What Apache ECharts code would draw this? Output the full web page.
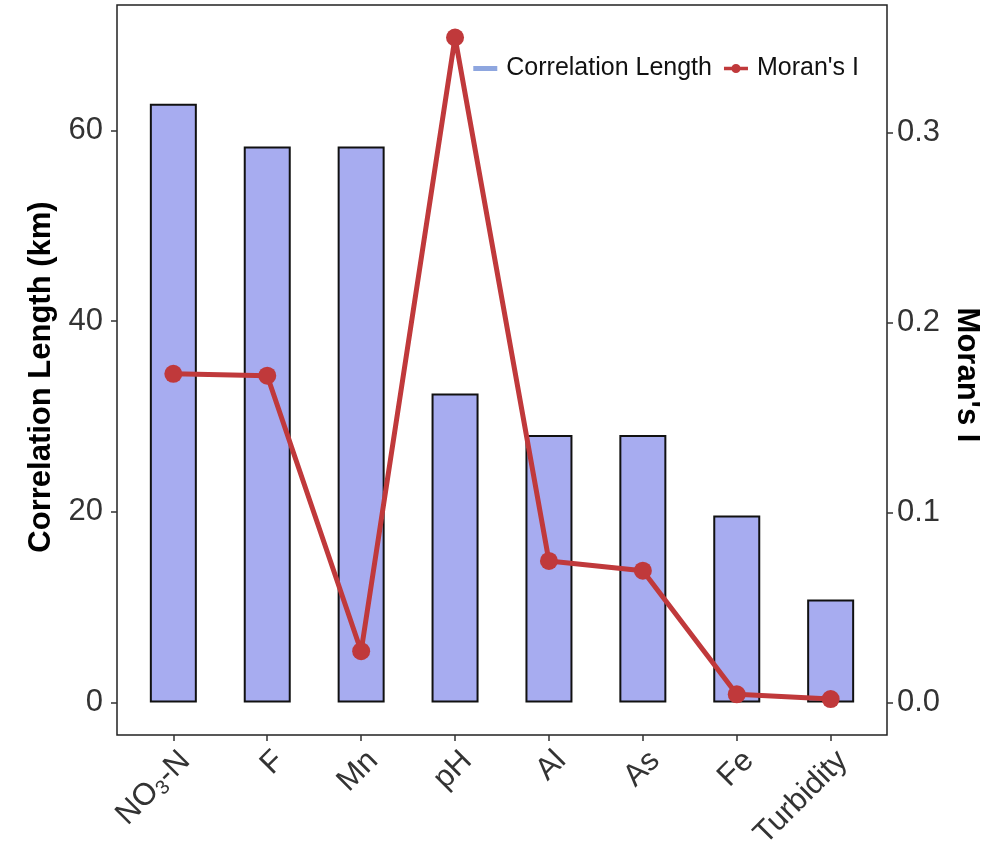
<!DOCTYPE html>
<html>
<head>
<meta charset="utf-8">
<script src="https://cdn.jsdelivr.net/npm/echarts@6/dist/echarts.min.js"></script>
<style>
  html, body { margin: 0; padding: 0; background: #fff; }
  #chart { width: 1005px; height: 859px; }
</style>
</head>
<body>
<div id="chart"></div>
<script>
// Water-quality parameters and their spatial statistics
const categories = ['NO3-N', 'F', 'Mn', 'pH', 'Al', 'As', 'Fe', 'Turbidity'];
const correlationLength = [62.8, 58.3, 58.3, 32.4, 28.05, 28.05, 19.6, 10.8];   // km
const moransI = [0.173, 0.172, 0.027, 0.35, 0.0745, 0.0694, 0.0043, 0.0018];
const leftTicks = [0, 20, 40, 60];
const rightTicks = [0, 0.1, 0.2, 0.3];
const categoryPositions = categories.map((c, i) => i);

const FONT = 'Liberation Sans, Arial, Helvetica, sans-serif';
const TICK_COLOR = '#333';
const TICK_FONT = 31;
const RED = '#c0393b';

const chart = echarts.init(document.getElementById('chart'), null, { renderer: 'canvas' });

function categoryLabel(v) {
  const name = categories[Math.round(v)];
  if (name === 'NO3-N') return '{n|NO}{s|3}{n|-N}';
  return '{n|' + name + '}';
}

const tickStyle = { color: TICK_COLOR, width: 1.5 };

chart.setOption({
  animation: false,
  backgroundColor: '#fff',
  grid: {
    left: 117, right: 118, top: 5, bottom: 124,
    show: true, borderColor: '#222', borderWidth: 1.5, backgroundColor: 'transparent'
  },
  legend: {
    right: 141, top: 51,
    itemWidth: 24, itemHeight: 11, itemGap: 12,
    textStyle: { fontFamily: FONT, fontSize: 25, color: '#111', padding: [0, 0, 0, 4] },
    data: [
      { name: 'Correlation Length', icon: 'path://M0,0 H24 V5 H0 Z', itemStyle: { color: '#8ea6df', borderWidth: 0 } },
      { name: "Moran's I", icon: 'path://M0,4 H26 V8 H0 Z M13,1 A5,5 0 1 1 12.99,1 Z', itemStyle: { color: RED, borderWidth: 0 } }
    ]
  },
  xAxis: {
    type: 'value', min: -0.6, max: 7.6,
    axisLine: { show: false, onZero: false },
    splitLine: { show: false },
    axisTick: { show: true, length: 6, customValues: categoryPositions, lineStyle: tickStyle },
    axisLabel: {
      customValues: categoryPositions,
      rotate: 45, margin: 9,
      align: 'right', verticalAlign: 'top',
      formatter: categoryLabel,
      rich: {
        n: { fontFamily: FONT, fontSize: TICK_FONT, color: TICK_COLOR, lineHeight: 34 },
        s: { fontFamily: FONT, fontSize: 20, color: TICK_COLOR, verticalAlign: 'bottom', lineHeight: 34, padding: [13, 0, 0, 0] }
      }
    }
  },
  yAxis: [
    {
      type: 'value', min: -3.41, max: 73.15, position: 'left',
      name: 'Correlation Length (km)', nameLocation: 'middle', nameGap: 60,
      nameTextStyle: { fontFamily: FONT, fontSize: 31, fontWeight: 'bold', color: '#000', padding: [0, 14, 0, 0] },
      axisLine: { show: false, onZero: false },
      splitLine: { show: false },
      axisTick: { show: true, length: 6, customValues: leftTicks, lineStyle: tickStyle },
      axisLabel: { customValues: leftTicks, fontFamily: FONT, fontSize: TICK_FONT, color: TICK_COLOR, margin: 14 }
    },
    {
      type: 'value', min: -0.0171, max: 0.3671, position: 'right',
      name: "Moran's I", nameLocation: 'middle', nameGap: 64, nameRotate: -90,
      nameTextStyle: { fontFamily: FONT, fontSize: 31, fontWeight: 'bold', color: '#000', padding: [0, 0, 0, 10] },
      axisLine: { show: false, onZero: false },
      splitLine: { show: false },
      axisTick: { show: true, length: 6, customValues: rightTicks, lineStyle: tickStyle },
      axisLabel: { customValues: rightTicks, fontFamily: FONT, fontSize: TICK_FONT, color: TICK_COLOR, margin: 10,
        formatter: v => v.toFixed(1) }
    }
  ],
  series: [
    {
      name: 'Correlation Length',
      type: 'bar',
      yAxisIndex: 0,
      barWidth: 47,
      itemStyle: { color: '#a7acf0', borderColor: '#111', borderWidth: 2 },
      data: correlationLength.map((v, i) => [categoryPositions[i], v]),
      z: 2
    },
    {
      name: "Moran's I",
      type: 'line',
      yAxisIndex: 1,
      symbol: 'circle',
      symbolSize: 18,
      lineStyle: { color: RED, width: 5 },
      itemStyle: { color: RED },
      data: moransI.map((v, i) => [categoryPositions[i], v]),
      z: 3
    }
  ]
});
</script>
</body>
</html>
